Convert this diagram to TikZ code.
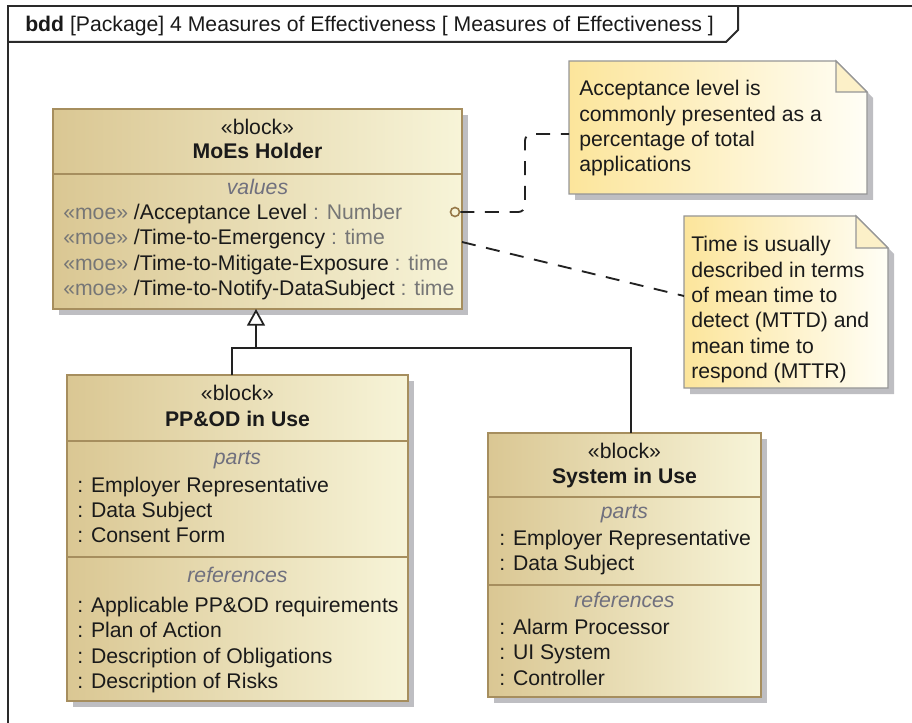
\documentclass[tikz,border=0pt]{standalone}
\usepackage{fontspec}
\setmainfont{Liberation Sans}
\usetikzlibrary{arrows.meta,calc,backgrounds}

\definecolor{frameInk}{RGB}{42,42,42}
\definecolor{blkLeft}{RGB}{218,199,147}
\definecolor{blkRight}{RGB}{247,244,216}
\definecolor{blkEdge}{RGB}{166,142,94}
\definecolor{dotEdge}{RGB}{150,120,72}
\definecolor{noteLeft}{RGB}{252,229,155}
\definecolor{noteRight}{RGB}{255,254,246}
\definecolor{noteEdge}{RGB}{150,150,150}
\definecolor{foldFill}{RGB}{252,240,200}
\definecolor{dropGray}{RGB}{190,190,194}
\definecolor{stereoGray}{RGB}{118,118,118}
\definecolor{compGray}{RGB}{112,112,126}
\definecolor{ink}{RGB}{26,26,26}
\definecolor{linkInk}{RGB}{34,34,34}
\newcommand\pxunit{0.75pt}

\begin{document}
\begin{tikzpicture}[x=0.75pt,y=-0.75pt,
  font=\fontsize{15.9}{19.05}\selectfont, text=ink,
  frameline/.style={draw=frameInk, line width=1.5pt},
  blockbody/.style={draw=blkEdge, line width=1.3pt, left color=blkLeft,
    right color=blkRight, inner sep=0pt, outer sep=0pt, anchor=north west},
  divider/.style={draw=blkEdge, line width=1.3pt},
  stereo/.style={anchor=base, inner sep=0pt},
  blocktitle/.style={anchor=base, inner sep=0pt,
    font=\fontsize{15.9}{19.05}\selectfont\bfseries},
  comptitle/.style={anchor=base, inner sep=0pt, text=compGray,
    font=\fontsize{15.9}{19.05}\selectfont\itshape},
  entry/.style={anchor=base west, inner sep=0pt},
  notebody/.style={inner sep=0pt, outer sep=0pt, anchor=north west},
  notefill/.style={draw=noteEdge, line width=0.9pt, left color=noteLeft,
    right color=noteRight},
  notetext/.style={anchor=north west, inner sep=0pt, align=left},
  notelink/.style={draw=linkInk, line width=1.4pt,
    dash pattern=on 10.5pt off 8pt},
  genline/.style={draw=linkInk, line width=1.5pt},
]
\useasboundingbox (0,0) rectangle (912,723);

% diagram frame with its name tab
\draw[frameline] (8,723) -- (8,6) -- (912,6);
\draw[frameline] (8,42) -- (726,42) -- (738,30) -- (738,6);
\node[anchor=base west, inner sep=0pt] (hdr) at (25,32)
  {\textbf{bdd} [Package] 4 Measures of Effectiveness [ Measures of Effectiveness ]};

% ---------------- MoEs Holder ----------------
\node[blockbody, minimum width=409*\pxunit, minimum height=200*\pxunit]
  (moes) at (53,109) {};
\node[stereo] (moesSt) at (257.5,135) {«block»};
\node[blocktitle] (moesName) at (257.5,159) {MoEs Holder};
\draw[divider] ($(moes.north west)+(0,65)$) -- ($(moes.north east)+(0,65)$);
\node[comptitle] (moesVals) at (257.5,195) {values};
\node[entry] (v1) at (63,219.5)
  {\textcolor{stereoGray}{«moe»} /Acceptance Level \textcolor{stereoGray}{: Number}};
\node[entry] (v2) at (63,245)
  {\textcolor{stereoGray}{«moe»} /Time-to-Emergency \textcolor{stereoGray}{: time}};
\node[entry] (v3) at (63,270.5)
  {\textcolor{stereoGray}{«moe»} /Time-to-Mitigate-Exposure \textcolor{stereoGray}{: time}};
\node[entry] (v4) at (63,296)
  {\textcolor{stereoGray}{«moe»} /Time-to-Notify-DataSubject \textcolor{stereoGray}{: time}};

% ---------------- PP&OD in Use ----------------
\node[blockbody, minimum width=341*\pxunit, minimum height=326*\pxunit]
  (ppod) at (67,375) {};
\node[stereo] (ppodSt) at (237.5,400) {«block»};
\node[blocktitle] (ppodName) at (237.5,426) {PP\&OD in Use};
\draw[divider] ($(ppod.north west)+(0,66)$) -- ($(ppod.north east)+(0,66)$);
\node[comptitle] (ppodParts) at (237.5,464) {parts};
\node[entry] (p1) at (77,492) {: Employer Representative};
\node[entry] (p2) at (77,517) {: Data Subject};
\node[entry] (p3) at (77,542) {: Consent Form};
\draw[divider] ($(ppod.north west)+(0,182)$) -- ($(ppod.north east)+(0,182)$);
\node[comptitle] (ppodRefs) at (237.5,582) {references};
\node[entry] (r1) at (77,612) {: Applicable PP\&OD requirements};
\node[entry] (r2) at (77,637.5) {: Plan of Action};
\node[entry] (r3) at (77,663) {: Description of Obligations};
\node[entry] (r4) at (77,688.5) {: Description of Risks};

% ---------------- System in Use ----------------
\node[blockbody, minimum width=273*\pxunit, minimum height=264*\pxunit]
  (sys) at (488,433) {};
\node[stereo] (sysSt) at (624.5,458) {«block»};
\node[blocktitle] (sysName) at (624.5,483.5) {System in Use};
\draw[divider] ($(sys.north west)+(0,64)$) -- ($(sys.north east)+(0,64)$);
\node[comptitle] (sysParts) at (624.5,518.5) {parts};
\node[entry] (s1) at (499,545) {: Employer Representative};
\node[entry] (s2) at (499,570) {: Data Subject};
\draw[divider] ($(sys.north west)+(0,152)$) -- ($(sys.north east)+(0,152)$);
\node[comptitle] (sysRefs) at (624.5,607) {references};
\node[entry] (t1) at (499,634) {: Alarm Processor};
\node[entry] (t2) at (499,659.5) {: UI System};
\node[entry] (t3) at (499,685) {: Controller};

% ---------------- notes ----------------
\node[notebody, minimum width=298*\pxunit, minimum height=133*\pxunit]
  (note1) at (569,61) {};
\shade[notefill] (note1.north west) -- ($(note1.north east)+(-31,0)$)
  -- ($(note1.north east)+(0,31)$) -- (note1.south east)
  -- (note1.south west) -- cycle;
\filldraw[fill=foldFill, draw=noteEdge, line width=0.9pt]
  ($(note1.north east)+(-31,0)$) -- ($(note1.north east)+(-31,31)$)
  -- ($(note1.north east)+(0,31)$) -- cycle;
\node[notetext] (note1txt) at (579,80)
  {Acceptance level is\\commonly presented as a\\percentage of total\\applications};

\node[notebody, minimum width=204*\pxunit, minimum height=172*\pxunit]
  (note2) at (684,216) {};
\shade[notefill] (note2.north west) -- ($(note2.north east)+(-32,0)$)
  -- ($(note2.north east)+(0,32)$) -- (note2.south east)
  -- (note2.south west) -- cycle;
\filldraw[fill=foldFill, draw=noteEdge, line width=0.9pt]
  ($(note2.north east)+(-32,0)$) -- ($(note2.north east)+(-32,32)$)
  -- ($(note2.north east)+(0,32)$) -- cycle;
\node[notetext] (note2txt) at (691,236)
  {Time is usually\\described in terms\\of mean time to\\detect (MTTD) and\\mean time to\\respond (MTTR)};

% drop shadows behind blocks and notes
\begin{scope}[on background layer]
  \foreach \b in {moes,ppod,sys}
    \fill[dropGray] ($(\b.north west)+(6,6)$) rectangle ($(\b.south east)+(6,6)$);
  \fill[dropGray] ($(note1.north west)+(6,6)$) -- ($(note1.north east)+(-25,6)$)
    -- ($(note1.north east)+(6,37)$) -- ($(note1.south east)+(6,6)$)
    -- ($(note1.south west)+(6,6)$) -- cycle;
  \fill[dropGray] ($(note2.north west)+(6,6)$) -- ($(note2.north east)+(-26,6)$)
    -- ($(note2.north east)+(6,38)$) -- ($(note2.south east)+(6,6)$)
    -- ($(note2.south west)+(6,6)$) -- cycle;
\end{scope}

% anchor of the first note on the Acceptance Level value
\node[circle, draw=dotEdge, fill=blkRight, line width=1.2pt,
  minimum size=9*\pxunit, inner sep=0pt] (dot) at ($(moes.north east)+(-7,103)$) {};
\coordinate (bend) at (525,134);
\draw[notelink, rounded corners=5pt] (dot.east) -| (bend) -- (bend -| note1.west);
\draw[notelink] ($(moes.north east)+(0,133)$) -- ($(note2.north west)+(0,80)$);

% generalization tree
\coordinate (gj) at (256,348);
\coordinate (ppx) at (232,348);
\coordinate (sysx) at (631,348);
\draw[genline] (ppx |- ppod.north) -- (ppx) -- (sysx) -- (sysx |- sys.north);
\draw[genline, -{Triangle[open, length=12.5pt, width=13.5pt, line width=1.3pt, fill=white]}]
  (gj) -- (gj |- moes.south);
\end{tikzpicture}
\end{document}
